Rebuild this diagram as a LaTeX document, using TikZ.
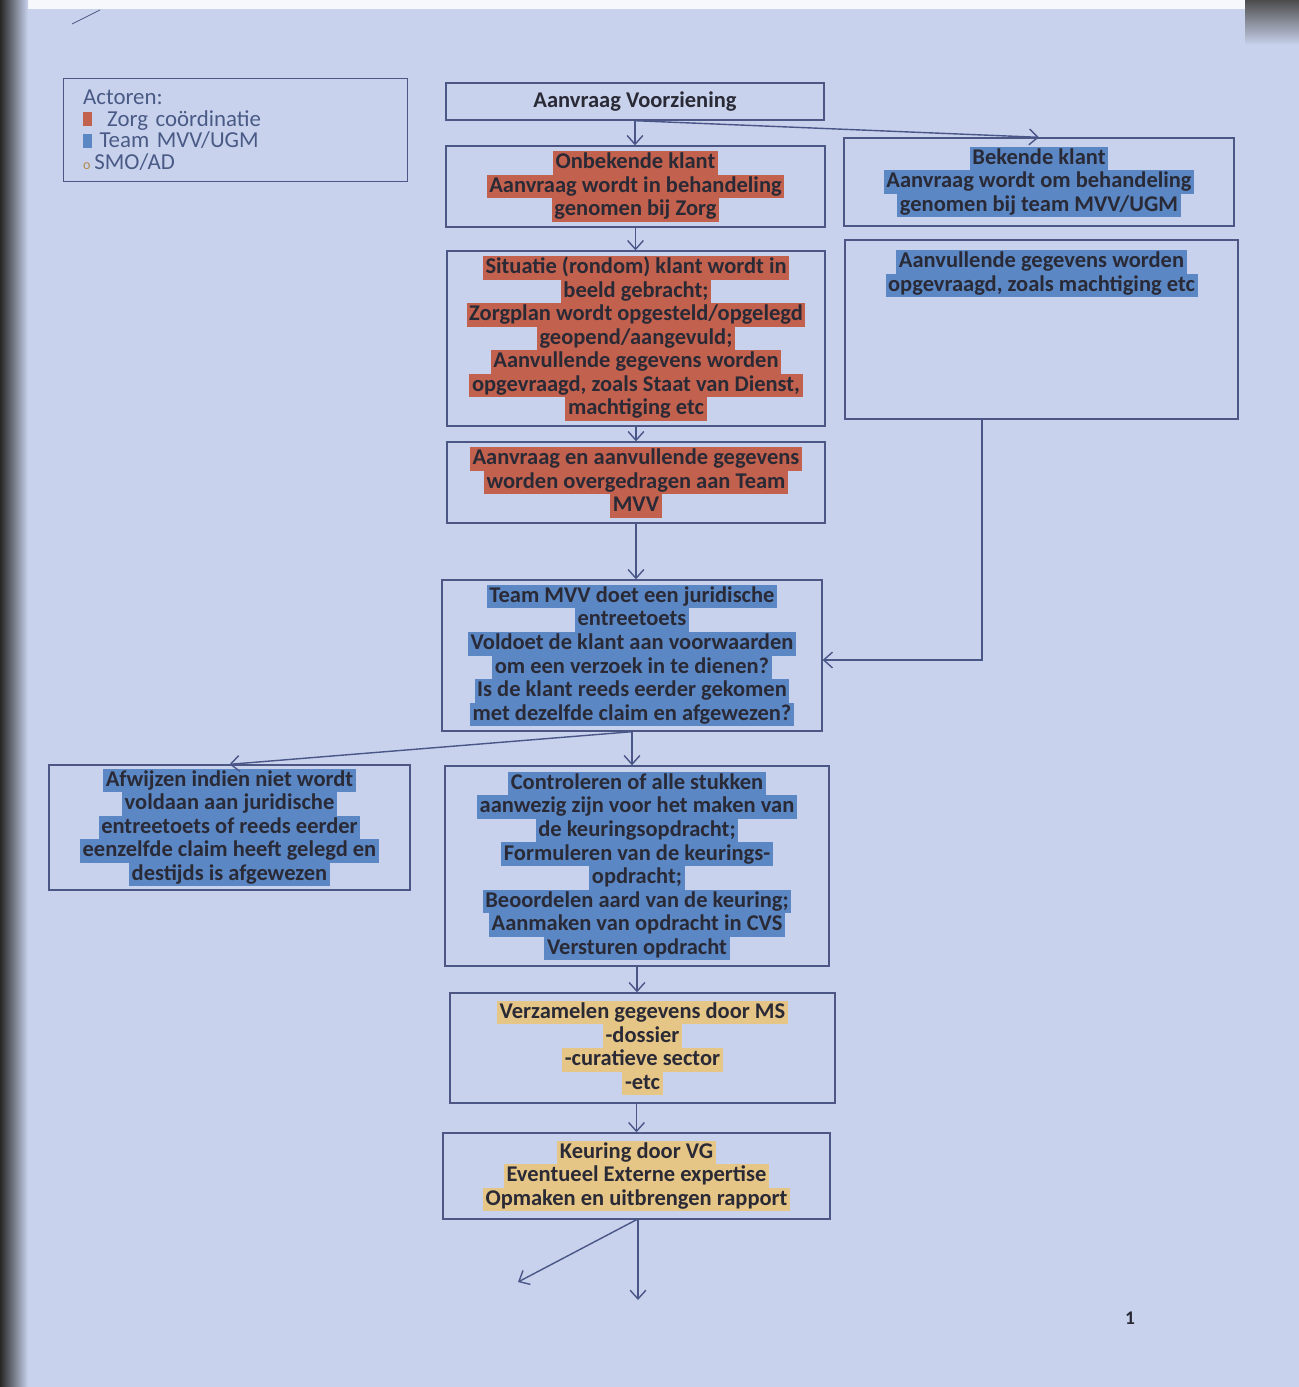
\documentclass[tikz,border=0pt]{standalone}
\usepackage{fontspec}
\setmainfont{Carlito}
\usepackage{tikz}
\usetikzlibrary{positioning,arrows.meta}

\definecolor{paper}{HTML}{C8D2EC}
\definecolor{boxline}{HTML}{4D5785}
\definecolor{arrowc}{HTML}{4A5688}
\definecolor{zorg}{HTML}{C2614E}
\definecolor{mvv}{HTML}{5B87C4}
\definecolor{smo}{HTML}{E6C687}
\definecolor{smodark}{HTML}{B08A4A}
\definecolor{ink}{HTML}{2A2A36}
\definecolor{legendtext}{HTML}{4A5A86}

\setlength{\fboxsep}{0pt}
\newcommand{\hlstrut}{\rule[-3.4pt]{0pt}{13.4pt}}
\newcommand{\hlt}[2]{\colorbox{#1}{\hlstrut\kern1.5pt#2\kern1.5pt}}
\newcommand{\hlzorg}[1]{\hlt{zorg}{#1}}
\newcommand{\hlmvv}[1]{\hlt{mvv}{#1}}
\newcommand{\hlsmo}[1]{\hlt{smo}{#1}}

\begin{document}
\begin{tikzpicture}[x=0.02cm, y=-0.02cm, >={Straight Barb[length=5pt,width=9pt]},
    box/.style={draw=boxline, line width=0.8pt, align=center, inner sep=2pt,
        font=\fontsize{12.8}{13.4}\selectfont\bfseries, text=ink},
    legend/.style={draw=boxline, line width=0.8pt, align=left, text width=6.1cm,
        inner xsep=0.38cm, font=\fontsize{13}{12.2}\selectfont, text=legendtext},
    arr/.style={->, draw=arrowc, line width=0.8pt}]

    % paper
    \useasboundingbox (0,0) rectangle (1299,1387);
    \fill[paper] (0,0) rectangle (1299,1387);
    \fill[white!85!paper] (22,0) rectangle (1299,9);
    \shade[left color=black!85, right color=paper] (0,0) rectangle (28,1387);
    \shade[top color=black!70, bottom color=paper] (1245,0) rectangle (1299,45);
    \draw[boxline] (72,24) -- (100,10);

    % legenda
    \node[legend, anchor=north west, minimum width=6.88cm, minimum height=2.06cm] (actoren) at (63,78)
        {Actoren:\\
         \textcolor{zorg}{\rule{5pt}{8pt}}\ \ Zorg coördinatie\\
         \textcolor{mvv}{\rule{5pt}{8pt}}\ Team MVV/UGM\\
         {\fontsize{8}{8}\selectfont\textcolor{smodark}{o}}\,SMO/AD};

    % stappen
    \node[box, minimum width=7.56cm, minimum height=0.74cm] (aanvraag) at (635,101.5)
        {Aanvraag Voorziening};

    \node[box, minimum width=7.58cm, minimum height=1.62cm] (onbekend) at (635.5,186.5)
        {\hlzorg{Onbekende klant}\\
         \hlzorg{Aanvraag wordt in behandeling}\\
         \hlzorg{genomen bij Zorg}};

    \node[box, minimum width=7.8cm, minimum height=1.76cm] (bekend) at (1039,182)
        {\hlmvv{Bekende klant}\\
         \hlmvv{Aanvraag wordt om behandeling}\\
         \hlmvv{genomen bij team MVV/UGM}};

    \node[box, minimum width=7.56cm, minimum height=3.5cm] (situatie) at (636,338.5)
        {\hlzorg{Situatie (rondom) klant wordt in}\\
         \hlzorg{beeld gebracht;}\\
         \hlzorg{Zorgplan wordt opgesteld/opgelegd}\\
         \hlzorg{geopend/aangevuld;}\\
         \hlzorg{Aanvullende gegevens worden}\\
         \hlzorg{opgevraagd, zoals Staat van Dienst,}\\
         \hlzorg{machtiging etc}};

    \node[box, minimum width=7.86cm, minimum height=3.58cm, inner sep=0pt] (aanvullend) at (1041.5,329.5)
        {\parbox[c][3.58cm][t]{7.6cm}{\centering\vspace*{0.2cm}%
         \hlmvv{Aanvullende gegevens worden}\\
         \hlmvv{opgevraagd, zoals machtiging etc}}};

    \node[box, minimum width=7.56cm, minimum height=1.62cm] (overdracht) at (636,482.5)
        {\hlzorg{Aanvraag en aanvullende gegevens}\\
         \hlzorg{worden overgedragen aan Team}\\
         \hlzorg{MVV}};

    \node[box, minimum width=7.6cm, minimum height=3.02cm] (toets) at (632,655.5)
        {\hlmvv{Team MVV doet een juridische}\\
         \hlmvv{entreetoets}\\
         \hlmvv{Voldoet de klant aan voorwaarden}\\
         \hlmvv{om een verzoek in te dienen?}\\
         \hlmvv{Is de klant reeds eerder gekomen}\\
         \hlmvv{met dezelfde claim en afgewezen?}};

    \node[box, minimum width=7.22cm, minimum height=2.5cm] (afwijzen) at (229.5,827.5)
        {\hlmvv{Afwijzen indien niet wordt}\\
         \hlmvv{voldaan aan juridische}\\
         \hlmvv{entreetoets of reeds eerder}\\
         \hlmvv{eenzelfde claim heeft gelegd en}\\
         \hlmvv{destijds is afgewezen}};

    \node[box, minimum width=7.68cm, minimum height=4.0cm] (controle) at (637,866)
        {\hlmvv{Controleren of alle stukken}\\
         \hlmvv{aanwezig zijn voor het maken van}\\
         \hlmvv{de keuringsopdracht;}\\
         \hlmvv{Formuleren van de keurings-}\\
         \hlmvv{opdracht;}\\
         \hlmvv{Beoordelen aard van de keuring;}\\
         \hlmvv{Aanmaken van opdracht in CVS}\\
         \hlmvv{Versturen opdracht}};

    \node[box, minimum width=7.7cm, minimum height=2.2cm] (verzamelen) at (642.5,1048)
        {\hlsmo{Verzamelen gegevens door MS}\\
         \hlsmo{-dossier}\\
         \hlsmo{-curatieve sector}\\
         \hlsmo{-etc}};

    \node[box, minimum width=7.74cm, minimum height=1.72cm] (keuring) at (636.5,1176)
        {\hlsmo{Keuring door VG}\\
         \hlsmo{Eventueel Externe expertise}\\
         \hlsmo{Opmaken en uitbrengen rapport}};

    \node[font=\fontsize{11}{12}\selectfont\bfseries, text=ink] (paginanr) at (1130,1318) {1};

    % verbindingen
    \coordinate (knik) at (982,660);
    \coordinate (uit1) at (518,1282);
    \coordinate (uit2) at (638,1300);

    \draw[arr] (aanvraag.south) -- (aanvraag.south |- onbekend.north);
    \draw[arr] (aanvraag.south) -- (bekend.north);
    \draw[arr] (onbekend.south) -- (onbekend.south |- situatie.north);
    \draw[arr] (situatie.south) -- (situatie.south |- overdracht.north);
    \draw[arr] (overdracht.south) -- (overdracht.south |- toets.north);
    \draw[arr] (aanvullend.south -| knik) -- (knik) -- (toets.east |- knik);
    \draw[arr] (toets.south) -- (afwijzen.north);
    \draw[arr] (toets.south) -- (toets.south |- controle.north);
    \draw[arr] (controle.south) -- (controle.south |- verzamelen.north);
    \draw[arr] (verzamelen.south -| keuring.north) -- (keuring.north);
    \draw[arr] (keuring.south -| uit2) -- (uit2);
    \draw[arr] (keuring.south) -- (uit1);

\end{tikzpicture}
\end{document}
